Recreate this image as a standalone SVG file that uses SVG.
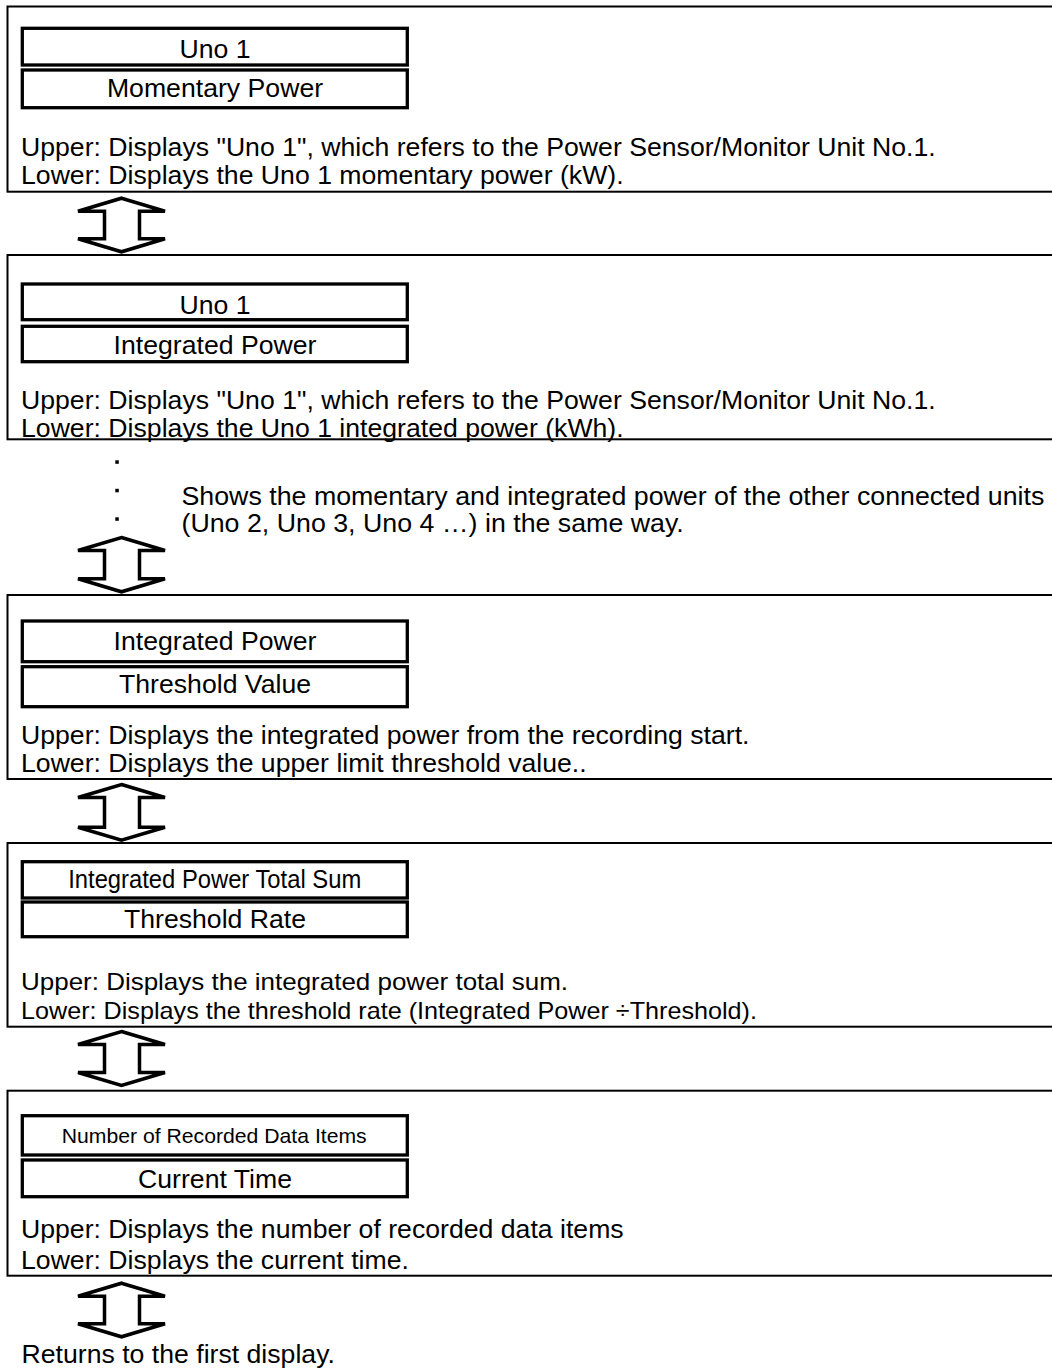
<svg xmlns="http://www.w3.org/2000/svg" width="1052" height="1369" viewBox="0 0 1052 1369">
<style>
.bg{fill:#fff}
.panel{fill:none;stroke:#000;stroke-width:2}
.box{fill:#fff;stroke:#000;stroke-width:3.3}
.t{font-family:"Liberation Sans",Arial,sans-serif;font-size:25px;fill:#000}
.c{text-anchor:middle}
.arrow{fill:#fff;stroke:#000;stroke-width:3.5;stroke-linejoin:miter;stroke-miterlimit:4}
.dot{fill:#000}
</style>
<rect class="bg" x="0" y="0" width="1052" height="1369"/>

<g id="panel1">
  <rect class="panel" x="7.5" y="6.5" width="1100" height="185.2"/>
  <rect class="box" x="22.3" y="28.3" width="385" height="36.7"/>
  <rect class="box" x="22.3" y="70" width="385" height="37.7"/>
  <text class="t c" transform="translate(215 58.3) scale(1.066 1)">Uno 1</text>
  <text class="t c" transform="translate(215 96.7) scale(1.066 1)">Momentary Power</text>
  <text class="t" transform="translate(21 156) scale(1.066 1)">Upper: Displays "Uno 1", which refers to the Power Sensor/Monitor Unit No.1.</text>
  <text class="t" transform="translate(21 184) scale(1.066 1)">Lower: Displays the Uno 1 momentary power (kW).</text>
</g>

<g id="panel2">
  <rect class="panel" x="7.5" y="255" width="1100" height="184.3"/>
  <rect class="box" x="22.3" y="284" width="385" height="35.7"/>
  <rect class="box" x="22.3" y="326.3" width="385" height="35.4"/>
  <text class="t c" transform="translate(215 314) scale(1.066 1)">Uno 1</text>
  <text class="t c" transform="translate(215 354) scale(1.066 1)">Integrated Power</text>
  <text class="t" transform="translate(21 409) scale(1.066 1)">Upper: Displays "Uno 1", which refers to the Power Sensor/Monitor Unit No.1.</text>
  <text class="t" transform="translate(21 437) scale(1.066 1)">Lower: Displays the Uno 1 integrated power (kWh).</text>
</g>

<g id="note-other-units">
  <rect class="dot" x="115.3" y="460.3" width="3.5" height="3.5"/>
  <rect class="dot" x="115.3" y="488.8" width="3.5" height="3.5"/>
  <rect class="dot" x="115.3" y="517.3" width="3.5" height="3.5"/>
  <text class="t" transform="translate(181.5 505) scale(1.071 1)">Shows the momentary and integrated power of the other connected units</text>
  <text class="t" transform="translate(181.5 532) scale(1.071 1)">(Uno 2, Uno 3, Uno 4 …) in the same way.</text>
</g>

<g id="panel3">
  <rect class="panel" x="7.5" y="595" width="1100" height="184"/>
  <rect class="box" x="22.3" y="621" width="385" height="40.7"/>
  <rect class="box" x="22.3" y="666.7" width="385" height="40"/>
  <text class="t c" transform="translate(215 650) scale(1.066 1)">Integrated Power</text>
  <text class="t c" transform="translate(215 693.3) scale(1.066 1)">Threshold Value</text>
  <text class="t" transform="translate(21 744) scale(1.066 1)">Upper: Displays the integrated power from the recording start.</text>
  <text class="t" transform="translate(21 772) scale(1.066 1)">Lower: Displays the upper limit threshold value..</text>
</g>

<g id="panel4">
  <rect class="panel" x="7.5" y="843" width="1100" height="183.7"/>
  <rect class="box" x="22.3" y="861.7" width="385" height="36.3"/>
  <rect class="box" x="22.3" y="902" width="385" height="34.7"/>
  <text class="t c" x="214.7" y="888.3" textLength="293" lengthAdjust="spacingAndGlyphs">Integrated Power Total Sum</text>
  <text class="t c" transform="translate(215 928.3) scale(1.066 1)">Threshold Rate</text>
  <text class="t" x="21" y="990" style="font-size:24px" textLength="547" lengthAdjust="spacingAndGlyphs">Upper: Displays the integrated power total sum.</text>
  <text class="t" x="21" y="1019" style="font-size:24px" textLength="736" lengthAdjust="spacingAndGlyphs">Lower: Displays the threshold rate (Integrated Power ÷Threshold).</text>
</g>

<g id="panel5">
  <rect class="panel" x="7.5" y="1090.7" width="1100" height="185"/>
  <rect class="box" x="22.3" y="1115.7" width="385" height="39.3"/>
  <rect class="box" x="22.3" y="1160" width="385" height="36.7"/>
  <text class="t c" x="214.2" y="1143.3" style="font-size:21px" textLength="305" lengthAdjust="spacingAndGlyphs">Number of Recorded Data Items</text>
  <text class="t c" transform="translate(215 1188.3) scale(1.066 1)">Current Time</text>
  <text class="t" transform="translate(21 1238.3) scale(1.066 1)">Upper: Displays the number of recorded data items</text>
  <text class="t" transform="translate(21 1269) scale(1.066 1)">Lower: Displays the current time.</text>
</g>

<g id="return-note">
  <text class="t" transform="translate(21.5 1363) scale(1.066 1)">Returns to the first display.</text>
</g>

<g id="connectors">
  <polygon class="arrow" points="121.5,198.2 165,211.2 139.5,211.2 139.5,238.8 165,238.8 121.5,251.8 78,238.8 104.5,238.8 104.5,211.2 78,211.2"/>
  <polygon class="arrow" points="121.5,537.5 165,550.5 139.5,550.5 139.5,578.8 165,578.8 121.5,591.8 78,578.8 104.5,578.8 104.5,550.5 78,550.5"/>
  <polygon class="arrow" points="121.5,784.5 165,797.5 139.5,797.5 139.5,827.2 165,827.2 121.5,840.2 78,827.2 104.5,827.2 104.5,797.5 78,797.5"/>
  <polygon class="arrow" points="121.5,1031.5 165,1044.5 139.5,1044.5 139.5,1072.5 165,1072.5 121.5,1085.5 78,1072.5 104.5,1072.5 104.5,1044.5 78,1044.5"/>
  <polygon class="arrow" points="121.5,1283.2 165,1296.2 139.5,1296.2 139.5,1323.8 165,1323.8 121.5,1336.8 78,1323.8 104.5,1323.8 104.5,1296.2 78,1296.2"/>
</g>
</svg>
